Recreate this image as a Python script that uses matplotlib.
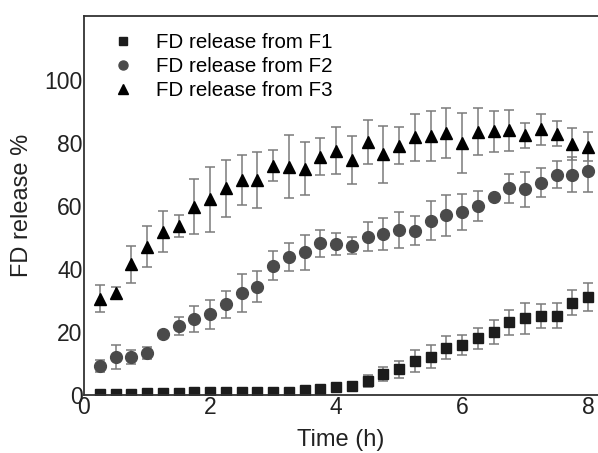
import matplotlib
matplotlib.use("Agg")
import matplotlib.pyplot as plt
from matplotlib.lines import Line2D

plt.rcParams['font.family'] = ['Liberation Sans', 'DejaVu Sans']

time_h = [0.25, 0.5, 0.75, 1.0, 1.25, 1.5, 1.75, 2.0, 2.25, 2.5, 2.75, 3.0, 3.25, 3.5, 3.75, 4.0,
          4.25, 4.5, 4.75, 5.0, 5.25, 5.5, 5.75, 6.0, 6.25, 6.5, 6.75, 7.0, 7.25, 7.5, 7.75, 8.0]

f1_mean = [0.3, 0.3, 0.3, 0.5, 0.7, 0.7, 0.8, 0.8, 0.9, 0.9, 1.0, 1.1, 1.1, 1.6, 1.9, 2.4,
           2.7, 4.4, 6.7, 8.1, 10.9, 12.2, 15.0, 15.9, 18.0, 20.1, 23.1, 24.3, 25.1, 25.2, 29.3, 31.2]
f1_err = [0, 0, 0, 0, 0, 0, 0, 0, 0, 0, 0, 0, 0, 0, 0, 0.3,
          0.4, 2.0, 2.3, 2.7, 3.5, 3.6, 3.7, 3.3, 3.4, 3.8, 4.0, 4.8, 3.8, 4.0, 4.0, 4.4]

f2_mean = [9.2, 12.2, 12.2, 13.2, 19.3, 21.9, 24.1, 25.6, 28.8, 32.3, 34.4, 41.0, 43.7, 45.3, 48.1, 47.8,
           47.4, 50.3, 51.1, 52.4, 52.1, 55.3, 57.1, 58.2, 60.0, 62.9, 65.6, 65.3, 67.4, 70.0, 70.0, 71.1]
f2_err = [1.8, 3.8, 2.2, 1.9, 0.4, 3.0, 4.0, 4.6, 4.2, 6.0, 5.0, 4.6, 4.4, 5.5, 4.2, 3.5,
          2.7, 4.7, 5.2, 5.7, 4.6, 6.2, 6.5, 5.7, 4.8, 0.5, 4.6, 5.5, 4.7, 4.4, 5.5, 6.5]

f3_mean = [30.5, 32.4, 41.5, 47.0, 51.8, 53.6, 59.8, 62.1, 65.6, 68.3, 68.3, 72.8, 72.5, 71.9, 75.7, 77.6,
           74.6, 80.4, 76.4, 79.2, 81.8, 82.3, 83.1, 80.1, 83.6, 83.8, 84.1, 82.5, 84.3, 82.9, 79.7, 78.8]
f3_err = [4.3, 2.0, 5.8, 6.5, 6.5, 3.5, 8.8, 10.3, 9.0, 8.0, 9.0, 5.0, 10.0, 8.5, 6.0, 7.5,
          7.5, 7.0, 9.0, 6.0, 7.5, 8.0, 8.0, 9.5, 7.5, 6.5, 6.5, 4.0, 5.0, 4.0, 5.0, 4.6]

labels = ['FD release from F1', 'FD release from F2', 'FD release from F3']
x_ticks = [0, 2, 4, 6, 8]
y_ticks = [0, 20, 40, 60, 80, 100]

fig = plt.figure(figsize=(5.98, 4.53), dpi=100)
ax = fig.add_axes([84/598, 58/453, 1 - 84/598, (395-16)/453])

ecol = '#7a7a7a'
ekw = dict(ecolor=ecol, elinewidth=1.1, capsize=3.5, capthick=1.1, linestyle='none', zorder=2)
ax.errorbar(time_h, f1_mean, yerr=f1_err, fmt='s', color='#1c1c1c', markersize=7.5,
            label=labels[0], **ekw)
ax.errorbar(time_h, f2_mean, yerr=f2_err, fmt='o', color='#4a4a4a', markersize=8.5,
            label=labels[1], **ekw)
ax.errorbar(time_h, f3_mean, yerr=f3_err, fmt='^', color='#000000', markersize=9,
            label=labels[2], **ekw)

ax.set_xlim(0, (598-84)/63)
ax.set_ylim(0, (395-16)/3.15)
ax.set_xticks(x_ticks)
ax.set_yticks(y_ticks)
ax.tick_params(length=0, labelsize=16.5, pad=1, colors='#222222')
ax.spines['right'].set_visible(False)
for s in ['left', 'bottom', 'top']:
    ax.spines[s].set_linewidth(1.3)
    ax.spines[s].set_color('#333333')

ax.set_xlabel('Time (h)', fontsize=17, color='#222222', labelpad=7)
ax.set_ylabel('FD release %', fontsize=17, color='#222222', labelpad=8)

hs = [Line2D([], [], marker='s', color='#1c1c1c', linestyle='none', markersize=6),
      Line2D([], [], marker='o', color='#4a4a4a', linestyle='none', markersize=6.5),
      Line2D([], [], marker='^', color='#000000', linestyle='none', markersize=7)]
ax.legend(hs, labels, loc='upper left', frameon=False, fontsize=14.8, handletextpad=1.0,
          handlelength=1.2, borderaxespad=0.0, labelspacing=0.25, borderpad=0.3,
          bbox_to_anchor=(0.04, 0.972))

fig.savefig('out.png', dpi=100)
